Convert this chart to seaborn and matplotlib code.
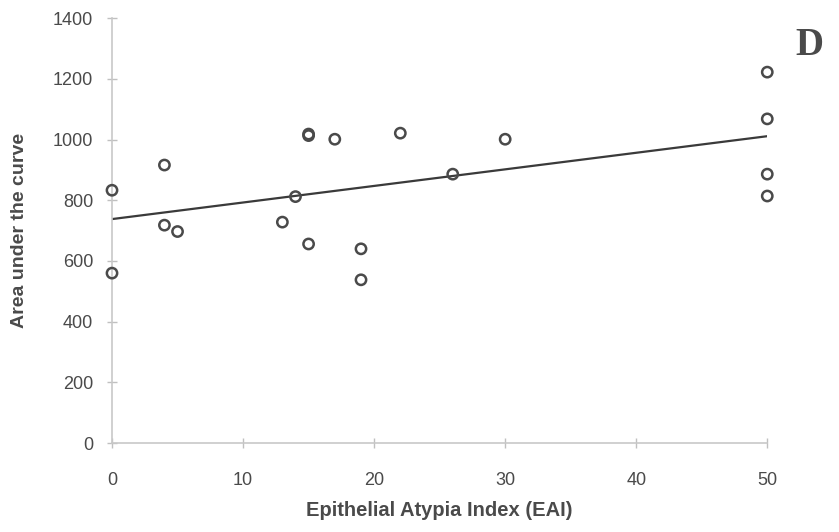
import seaborn as sns, matplotlib.pyplot as plt, pandas as pd, numpy as np

# data
eai = [0, 0, 4, 4, 5, 13, 14, 15, 15, 15, 17, 19, 19, 22, 26, 30, 50, 50, 50, 50]
auc = [833, 560, 916, 718, 697, 728, 812, 1013, 1018, 656, 1001, 640, 538, 1021, 886, 1001, 1222, 1068, 886, 814]
fit_x = [0, 50]
fit_y = [738, 1011]

xticks = [0, 10, 20, 30, 40, 50]
yticks = [0, 200, 400, 600, 800, 1000, 1200, 1400]

sns.set_style('white')
plt.rcParams['font.family'] = ['Liberation Sans', 'DejaVu Sans']

df = pd.DataFrame({'EAI': eai, 'AUC': auc})
grey = '#4a4a4a'

fig = plt.figure(figsize=(8.39, 5.32), dpi=100)
ax = fig.add_axes([0.1335, 0.167, 0.781, 0.799])

sns.lineplot(x=fit_x, y=fit_y, ax=ax, color='#3a3a3a', lw=1.6)
sns.scatterplot(data=df, x='EAI', y='AUC', ax=ax, marker='o', s=55,
                facecolor='none', edgecolor=grey, linewidth=1.8, clip_on=False, zorder=3)

ax.set_xlim(0, 50)
ax.set_ylim(0, 1400)
ax.set_xticks(xticks)
ax.set_yticks(yticks)
ax.tick_params(axis='both', bottom=True, left=True, direction='inout', length=7, width=1,
               color='#c0c0c0', labelcolor=grey, labelsize=13)
ax.tick_params(axis='x', pad=17)
ax.tick_params(axis='y', pad=10)
sns.despine(ax=ax)
for s in ['left', 'bottom']:
    ax.spines[s].set_color('#c8c8c8')
    ax.spines[s].set_linewidth(1.2)

ax.set_xlabel('Epithelial Atypia Index (EAI)', fontsize=14.5, fontweight='bold', color=grey, labelpad=9)
ax.set_ylabel('Area under the curve', fontsize=14, fontweight='bold', color=grey, labelpad=18)

fig.text(0.965, 0.915, 'D', family='Liberation Serif', fontweight='bold', fontsize=28,
         color=grey, ha='center', va='center')

fig.savefig('out.png', dpi=100)
